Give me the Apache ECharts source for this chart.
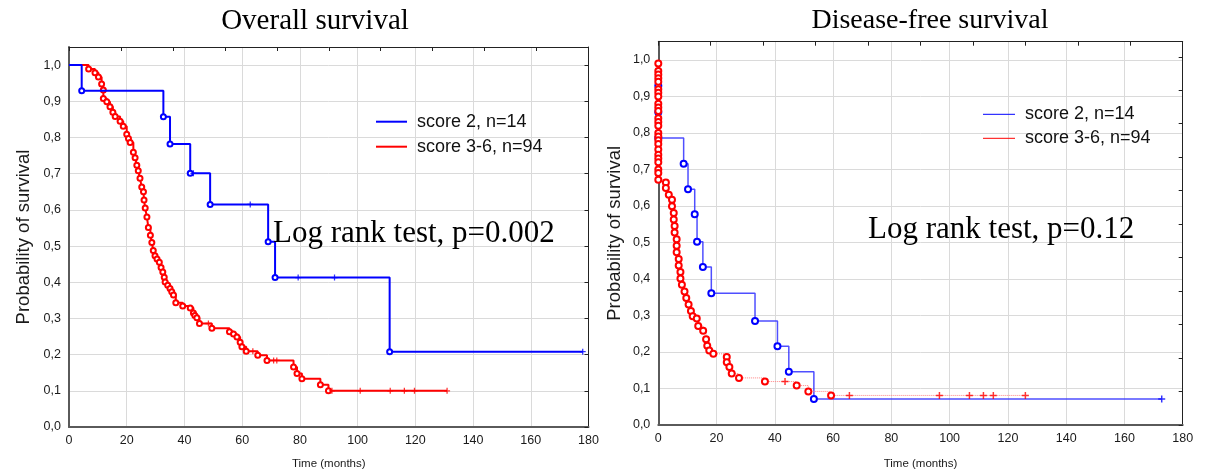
<!DOCTYPE html>
<html>
<head>
<meta charset="utf-8">
<title>Overall and disease-free survival</title>
<script src="https://cdn.jsdelivr.net/npm/echarts@6/dist/echarts.min.js"></script>
<style>
  html, body { margin: 0; padding: 0; background: #fff; }
  #chart { width: 1212px; height: 475px; }
</style>
</head>
<body>
<div id="chart"></div>
<script>
// Overall survival, score 2 (n=14): event times (months) and survival after each event
var osLowTime = [0, 4.4, 32.7, 35.0, 42.0, 48.9, 69.0, 71.4, 111.1]
var osLowSurv = [1, 0.929, 0.857, 0.782, 0.701, 0.615, 0.512, 0.413, 0.208]
var osLowCens = [43.1, 62.8, 79.4, 92.0, 178]

// Overall survival, score 3-6 (n=94)
var osHighTime = [0, 6.8, 9.0, 10.2, 11.3, 11.9, 11.9, 13.1, 14.2, 15.2, 16.0, 17.7, 18.8, 20.0, 20.6, 21.2,
  22.3, 22.9, 23.5, 24.0, 24.6, 25.2, 25.8, 26.0, 26.4, 27.0, 27.5, 28.2, 28.7, 29.2, 29.8, 30.5, 31.3, 31.9,
  32.5, 33.0, 33.3, 34.2, 35.0, 35.6, 36.2, 37.0, 39.4, 42.0, 43.1, 43.6, 44.3, 45.2, 49.5, 55.6, 57.0, 58.2,
  59.3, 59.9, 61.4, 65.4, 68.6, 77.8, 79.0, 80.7, 87.1, 89.9]
var osHighSurv = [1, 0.989, 0.979, 0.967, 0.948, 0.931, 0.908, 0.899, 0.885, 0.870, 0.858, 0.845, 0.831, 0.809,
  0.797, 0.786, 0.759, 0.744, 0.723, 0.708, 0.687, 0.663, 0.650, 0.627, 0.605, 0.580, 0.551, 0.530, 0.510,
  0.488, 0.473, 0.464, 0.455, 0.441, 0.428, 0.414, 0.401, 0.392, 0.383, 0.374, 0.365, 0.343, 0.334, 0.329,
  0.315, 0.308, 0.302, 0.286, 0.273, 0.263, 0.257, 0.249, 0.234, 0.222, 0.209, 0.198, 0.184, 0.166, 0.148,
  0.133, 0.117, 0.100]
var osHighCens = [48.3, 63.7, 70.9, 72.0, 91.1, 100.9, 111.3, 116.2, 119.7, 131.0]

// Disease-free survival, score 2 (n=14)
var dfsLowTime = [0, 0, 0, 0, 8.7, 10.2, 12.5, 13.3, 15.3, 18.2, 33.2, 40.9, 44.8, 53.4]
var dfsLowSurv = [1, 0.929, 0.857, 0.786, 0.716, 0.646, 0.577, 0.502, 0.433, 0.361, 0.285, 0.216, 0.146, 0.071]
var dfsLowCens = [172.8]

// Disease-free survival, score 3-6 (n=94)
var dfsHighTime = [0, 0, 0, 0, 0, 0, 0, 0, 0, 0, 0, 0, 0, 0, 0, 0, 0, 0, 0, 0, 0, 0, 0, 0, 0, 0,
  2.6, 2.6, 3.6, 4.7, 4.7, 5.3, 5.3, 5.6, 5.6, 6.3, 6.3, 6.3, 7.0, 7.0, 7.6, 7.6, 8.1, 9.0, 9.6, 10.4, 11.2,
  11.8, 13.2, 13.7, 15.4, 16.4, 16.8, 17.5, 18.9, 23.5, 23.5, 24.4, 25.2, 27.7, 36.6, 47.5, 51.5, 59.3]
var dfsHighSurv = [1, 0.99, 0.97, 0.96, 0.95, 0.94, 0.92, 0.91, 0.90, 0.88, 0.87, 0.86, 0.84, 0.83, 0.82, 0.80,
  0.79, 0.78, 0.77, 0.755, 0.74, 0.73, 0.72, 0.70, 0.69, 0.672,
  0.664, 0.649, 0.631, 0.617, 0.599, 0.581, 0.563, 0.545, 0.527, 0.509, 0.491, 0.473, 0.455, 0.437, 0.419,
  0.401, 0.384, 0.366, 0.348, 0.330, 0.312, 0.298, 0.292, 0.271, 0.258, 0.235, 0.217, 0.204, 0.195, 0.186,
  0.172, 0.159, 0.141, 0.129, 0.119, 0.108, 0.092, 0.081]
var dfsHighCens = [43.5, 65.6, 96.5, 106.8, 111.6, 115.0, 126.0]

var yTicks = [0, 0.1, 0.2, 0.3, 0.4, 0.5, 0.6, 0.7, 0.8, 0.9, 1.0]
var legendNames = ['score 2, n=14', 'score 3-6, n=94']

var plusIcon = 'path://M3,0h1.6v3h3v1.6h-3v3h-1.6v-3h-3v-1.6h3z'

// KM step line: a circle at each event, plain line out to the last censored case
function stepData(times, surv, cens) {
  var last = Math.max.apply(null, cens)
  var data = times.map(function (t, i) {
    return { value: [t, surv[i]], symbol: i === 0 ? 'none' : 'emptyCircle' }
  })
  if (last > times[times.length - 1]) {
    data.push({ value: [last, surv[surv.length - 1]], symbol: 'none' })
  }
  return data
}

// censored cases sit on the curve at their time
function censData(times, surv, cens) {
  return cens.map(function (c) {
    var s = surv[0]
    for (var i = 0; i < times.length; i++) {
      if (times[i] <= c) s = surv[i]
    }
    return [c, s]
  })
}

function yLabel(v) {
  var hit = yTicks.some(function (t) { return Math.abs(t - v) < 1e-6 })
  return hit ? v.toFixed(1).replace('.', ',') : ''
}

var sans = 'Liberation Sans'
var serif = 'Liberation Serif'

function bottomAxis(grid, gap) {
  return {
    gridIndex: grid, type: 'value', min: 0, max: 180, interval: 20, position: 'bottom',
    axisLine: { onZero: false, lineStyle: { color: '#5a5a5a', width: 2 } },
    axisTick: { show: false },
    axisLabel: { fontFamily: sans, fontSize: 12.5, color: '#1a1a1a', margin: 7 },
    splitLine: { lineStyle: { color: '#dadada', width: 1 } },
    name: 'Time (months)', nameLocation: 'middle', nameGap: gap,
    nameTextStyle: { fontFamily: sans, fontSize: 11.5, color: '#1a1a1a' }
  }
}
function topAxis(grid) {
  return {
    gridIndex: grid, type: 'value', min: 0, max: 180, interval: 18, position: 'top',
    axisLine: { onZero: false, lineStyle: { color: '#222', width: 1 } },
    axisTick: { inside: true, length: 4, lineStyle: { color: '#222' } },
    axisLabel: { show: false }, splitLine: { show: false }
  }
}
function leftAxis(grid, gap) {
  return {
    gridIndex: grid, type: 'value', min: 0, max: 1.05, interval: 0.1, position: 'left',
    axisLine: { show: true, onZero: false, lineStyle: { color: '#5a5a5a', width: 2 } },
    axisTick: { show: false },
    axisLabel: { fontFamily: sans, fontSize: 12.5, color: '#1a1a1a', margin: 8, formatter: yLabel },
    splitLine: { lineStyle: { color: '#dadada', width: 1 } },
    name: 'Probability of survival', nameLocation: 'middle', nameGap: gap,
    nameTextStyle: { fontFamily: sans, fontSize: 18.5, color: '#1a1a1a' }
  }
}
function rightAxis(grid, step) {
  return {
    gridIndex: grid, type: 'value', min: 0, max: 1.05, interval: step, position: 'right',
    axisLine: { show: true, onZero: false, lineStyle: { color: '#222', width: 1 } },
    axisTick: { show: true, inside: true, length: 4, lineStyle: { color: '#222' } },
    axisLabel: { show: false }, splitLine: { show: false }
  }
}

var chart = echarts.init(document.getElementById('chart'))

var option = {
  animation: false,
  backgroundColor: '#fff',
  title: [
    { text: 'Overall survival', left: 310, top: 2, textAlign: 'center',
      textStyle: { fontFamily: serif, fontSize: 29, fontWeight: 'normal', color: '#000' } },
    { text: 'Disease-free survival', left: 925, top: 2, textAlign: 'center',
      textStyle: { fontFamily: serif, fontSize: 28, fontWeight: 'normal', color: '#000' } }
  ],
  graphic: [
    { type: 'text', left: 273, top: 218, z: 20,
      style: { text: 'Log rank test, p=0.002', font: '31px "Liberation Serif"', fill: '#000' } },
    { type: 'text', left: 868, top: 214, z: 20,
      style: { text: 'Log rank test, p=0.12', font: '31px "Liberation Serif"', fill: '#000' } }
  ],
  legend: [
    { left: 376, top: 112.7, orient: 'vertical', padding: 0, data: legendNames,
      icon: 'rect', itemWidth: 31, itemHeight: 2, itemGap: 7,
      textStyle: { fontFamily: sans, fontSize: 18, color: '#111', padding: [0, 0, 0, 5] } },
    { left: 983, top: 105.3, orient: 'vertical', padding: 0, data: legendNames,
      icon: 'rect', itemWidth: 32, itemHeight: 1, itemGap: 6,
      textStyle: { fontFamily: sans, fontSize: 18, color: '#111', padding: [0, 0, 0, 5] } }
  ],
  grid: [
    { left: 69, top: 47, width: 519.5, height: 387.7 },
    { left: 658.3, top: 41.7, width: 524.4, height: 390.6 }
  ],
  xAxis: [bottomAxis(0, 31), topAxis(0), bottomAxis(1, 33), topAxis(1)],
  yAxis: [leftAxis(0, 36), rightAxis(0, 0.1), leftAxis(1, 34), rightAxis(1, 0.0917)],
  series: [
    {
      name: legendNames[1], type: 'line', step: 'end', xAxisIndex: 0, yAxisIndex: 0, z: 2,
      data: stepData(osHighTime, osHighSurv, osHighCens),
      symbolSize: 5, lineStyle: { color: '#ff0000', width: 2 },
      itemStyle: { color: '#ff0000', borderWidth: 1.5 }
    },
    {
      name: 'os-high-censored', type: 'scatter', xAxisIndex: 0, yAxisIndex: 0, z: 2,
      data: censData(osHighTime, osHighSurv, osHighCens),
      symbol: plusIcon, symbolSize: 6, itemStyle: { color: '#ff0000' }
    },
    {
      name: legendNames[0], type: 'line', step: 'end', xAxisIndex: 0, yAxisIndex: 0, z: 3,
      data: stepData(osLowTime, osLowSurv, osLowCens),
      symbolSize: 5, lineStyle: { color: '#0000ff', width: 2 },
      itemStyle: { color: '#0000ff', borderWidth: 1.5 }
    },
    {
      name: 'os-low-censored', type: 'scatter', xAxisIndex: 0, yAxisIndex: 0, z: 3,
      data: censData(osLowTime, osLowSurv, osLowCens),
      symbol: plusIcon, symbolSize: 6, itemStyle: { color: '#0000ff' }
    },
    {
      name: legendNames[0], type: 'line', step: 'end', xAxisIndex: 2, yAxisIndex: 2, z: 2,
      data: stepData(dfsLowTime, dfsLowSurv, dfsLowCens),
      symbolSize: 6, lineStyle: { color: '#3030ff', width: 1.5, opacity: 0.85 },
      itemStyle: { color: '#0000ff', borderWidth: 2 }
    },
    {
      name: 'dfs-low-censored', type: 'scatter', xAxisIndex: 2, yAxisIndex: 2, z: 2,
      data: censData(dfsLowTime, dfsLowSurv, dfsLowCens),
      symbol: plusIcon, symbolSize: 7, itemStyle: { color: '#0000ff' }
    },
    {
      name: legendNames[1], type: 'line', step: 'end', xAxisIndex: 2, yAxisIndex: 2, z: 3,
      data: stepData(dfsHighTime, dfsHighSurv, dfsHighCens),
      symbolSize: 6, lineStyle: { color: '#ff8080', width: 1, type: 'dotted' },
      itemStyle: { color: '#ff0000', borderWidth: 2 }
    },
    {
      name: 'dfs-high-censored', type: 'scatter', xAxisIndex: 2, yAxisIndex: 2, z: 3,
      data: censData(dfsHighTime, dfsHighSurv, dfsHighCens),
      symbol: plusIcon, symbolSize: 7, itemStyle: { color: '#ff0000' }
    }
  ]
}

chart.setOption(option)
</script>
</body>
</html>
